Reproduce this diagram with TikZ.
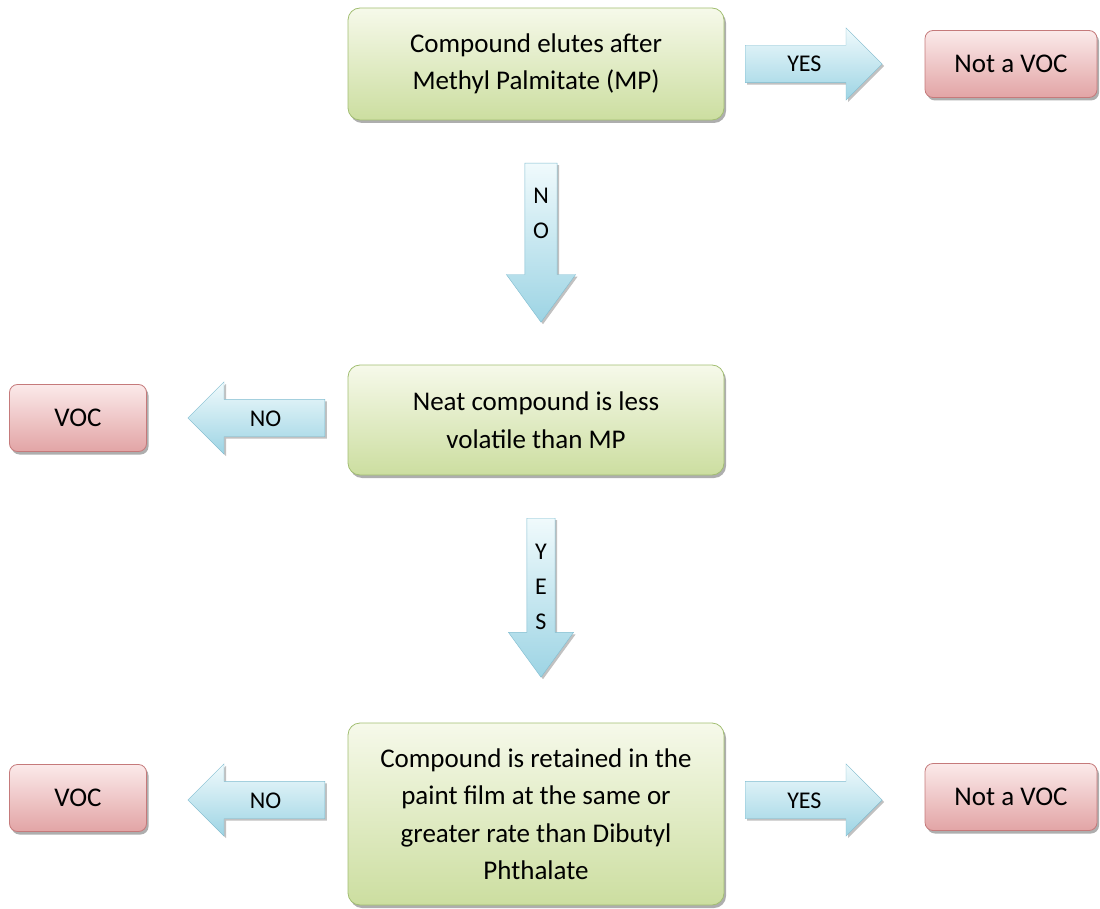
\documentclass[tikz,border=0pt]{standalone}
\usepackage{fontspec}
\setmainfont{Carlito}
\usepackage{xcolor}
\usepackage{tikz}
\usetikzlibrary{shapes.arrows,shadows,positioning}

\definecolor{condtop}{HTML}{F6F9EA}
\definecolor{condbot}{HTML}{CCDEA0}
\definecolor{condline}{HTML}{A2BE72}
\definecolor{restop}{HTML}{FBEAEA}
\definecolor{resbot}{HTML}{E2A4A5}
\definecolor{resline}{HTML}{C57A7B}
\definecolor{flowtop}{HTML}{F0FAFC}
\definecolor{flowbot}{HTML}{9DD4E4}
\definecolor{flowline}{HTML}{7FBCD0}

\begin{document}
\begin{tikzpicture}[
  x=1pt, y=-1pt,
  cond/.style={draw=condline, thick, top color=condtop, bottom color=condbot, rounded corners=12pt,
    minimum width=376pt, align=center, font=\fontsize{27}{37.5}\selectfont,
    drop shadow={shadow xshift=2pt, shadow yshift=-3pt, opacity=0.45, fill=black!70}},
  result/.style={draw=resline, thick, top color=restop, bottom color=resbot, rounded corners=8pt,
    minimum height=67pt, font=\fontsize{27}{32}\selectfont,
    drop shadow={shadow xshift=2pt, shadow yshift=-3pt, opacity=0.45, fill=black!70}},
  flowh/.style={single arrow, draw=flowline, top color=flowtop, bottom color=flowbot,
    minimum height=137pt, single arrow head extend=17.5pt, anchor=tail,
    text height=16pt, text depth=0pt, inner xsep=2pt, inner ysep=10.5pt,
    font=\fontsize{24}{28}\selectfont,
    drop shadow={shadow xshift=2pt, shadow yshift=-2pt, opacity=0.35, fill=black!70}},
  flowv/.style={single arrow, draw=flowline, top color=flowtop, bottom color=flowbot,
    minimum height=159pt, single arrow head extend=18.5pt, single arrow tip angle=72,
    shape border rotate=270, align=center, inner sep=8pt, anchor=tail,
    font=\fontsize{24}{35}\selectfont,
    drop shadow={shadow xshift=2pt, shadow yshift=-2pt, opacity=0.35, fill=black!70}},
]

\useasboundingbox (0,0) rectangle (1100,909);

\def\midx{536}
\def\leftx{78}
\def\rightx{1011}

% --- Step 1 ---
\node[cond, minimum height=112pt] (c1) at (\midx,64) {Compound elutes after\\Methyl Palmitate (MP)};
\node[flowh] (yes1) at (745,64) {YES};
\node[result, minimum width=172pt] (nv1) at (\rightx,64) {Not a VOC};
\node[flowv, text depth=36pt] (no1) at (541,163) {N\\O};

% --- Step 2 ---
\node[cond, minimum height=110pt] (c2) at (\midx,420) {Neat compound is less\\volatile than MP};
\node[flowh, shape border rotate=180] (no2) at (325,418) {NO};
\node[result, minimum width=137pt] (voc2) at (\leftx,418) {VOC};
\node[flowv, text depth=2pt] (yes2) at (541,518) {Y\\E\\S};

% --- Step 3 ---
\node[cond, minimum height=182pt] (c3) at (\midx,814) {Compound is retained in the\\paint film at the same or\\greater rate than Dibutyl\\Phthalate};
\node[flowh, shape border rotate=180] (no3) at (325,800) {NO};
\node[result, minimum width=137pt] (voc3) at (\leftx,798) {VOC};
\node[flowh] (yes3) at (745,800) {YES};
\node[result, minimum width=172pt] (nv3) at (\rightx,797) {Not a VOC};

\end{tikzpicture}
\end{document}
